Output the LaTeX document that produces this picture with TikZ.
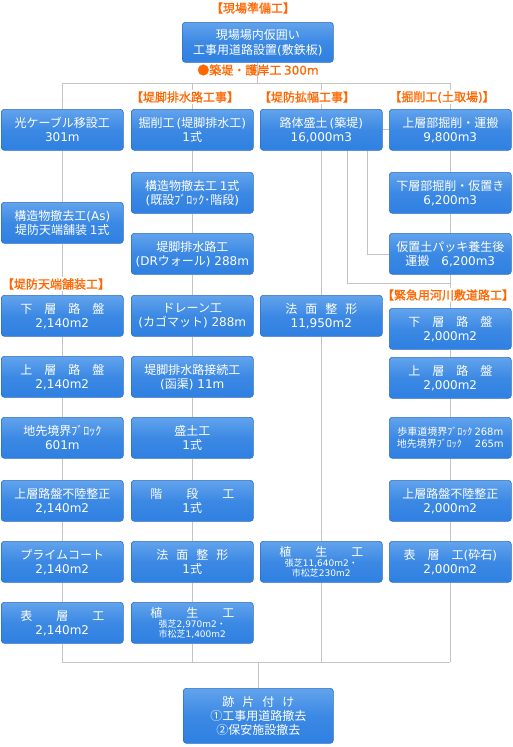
\documentclass[tikz,border=0pt]{standalone}
\usepackage{fontspec}
\setmainfont{DejaVu Sans}
\newfontfamily\cjkR{Noto Sans CJK JP}
\newfontfamily\cjkB[FakeBold=1.2]{Noto Sans CJK JP}
\newfontfamily\latR{DejaVu Sans}
\newfontfamily\latB[FakeBold=1.2]{DejaVu Sans}
\def\cjkfont{\cjkR}\def\latfont{\latR}
\newXeTeXintercharclass\cjkclass
\newcount\cjkcc
\def\setcjk#1#2{\cjkcc=#1\relax\loop\XeTeXcharclass\cjkcc=\cjkclass\relax\ifnum\cjkcc<#2\relax\advance\cjkcc by 1\relax\repeat}
\setcjk{"3000}{"30FF}
\setcjk{"4E00}{"9FFF}
\setcjk{"FF00}{"FFEF}
\setcjk{"2460}{"2473}
\setcjk{"25CF}{"25CF}
\XeTeXinterchartoks 0 \cjkclass = {\cjkfont}
\XeTeXinterchartoks 4095 \cjkclass = {\cjkfont}
\XeTeXinterchartoks \cjkclass 0 = {\latfont}
\XeTeXinterchartoks 4095 0 = {\latfont}
\XeTeXinterchartokenstate=1
\pgfdeclarelayer{bg}
\pgfsetlayers{bg,main}
\definecolor{boxtop}{HTML}{62A3EC}
\definecolor{boxmid}{HTML}{3C89E4}
\definecolor{boxbot}{HTML}{2F80E2}
\definecolor{boxline}{HTML}{2E6EC6}
\definecolor{lbl}{HTML}{FF6600}
\definecolor{connc}{HTML}{C4C4C4}
\newcommand\gp{\hspace{8pt}}
\newcommand\gq{\hspace{24pt}}
\tikzset{
  box/.style={draw=boxline, line width=0.6pt, rounded corners=3pt,
    top color=boxtop, bottom color=boxbot, middle color=boxmid,
    text=white, anchor=north west, minimum width=122pt, minimum height=41pt,
    inner sep=0pt, align=center, font=\fontsize{12}{14}\selectfont},
  small/.style={font=\fontsize{9}{10}\selectfont},
  lab/.style={text=lbl, fill=white, inner sep=1pt,
    font=\fontsize{12}{14}\selectfont\def\cjkfont{\cjkB}\def\latfont{\latB}},
  conn/.style={draw=connc, line width=0.8pt},
}
\begin{document}
\begin{tikzpicture}[x=1pt,y=-1pt]
\useasboundingbox (0,0) rectangle (513,747);
% top
\node[lab] (L0) at (253,8) {【現場準備工】};
\node[box, minimum width=151pt, minimum height=40pt, font=\fontsize{12}{15}\selectfont] (T) at (182,22) {現場場内仮囲い\\工事用道路設置(敷鉄板)};
\node[lab, fill=none] (L1) at (258,70) {●築堤・護岸工 300m};
\node[lab] (L2) at (185,97) {【堤脚排水路工事】};
\node[lab] (L3) at (307,97) {【堤防拡幅工事】};
\node[lab] (L4) at (442,97) {【掘削工(土取場)】};
\node[lab] (L5) at (56,284) {【堤防天端舗装工】};
\node[lab] (L6) at (448,295) {【緊急用河川敷道路工】};
% column 1
\node[box] (A1) at (1,109) {光ケーブル移設工\\301m};
\node[box] (A2) at (1,202) {構造物撤去工(As)\\堤防天端舗装 1式};
\node[box] (A3) at (1,295) {下　層　路　盤\\2,140m2};
\node[box] (A4) at (1,356) {上　層　路　盤\\2,140m2};
\node[box] (A5) at (1,417) {地先境界ﾌﾞﾛｯｸ\\601m};
\node[box] (A6) at (1,480) {上層路盤不陸整正\\2,140m2};
\node[box] (A7) at (1,541) {プライムコート\\2,140m2};
\node[box] (A8) at (1,602) {表\gq 層\gq 工\\2,140m2};
% column 2
\node[box] (B1) at (131,109) {掘削工\,(堤脚排水工)\\1式};
\node[box] (B2) at (131,172) {構造物撤去工 1式\\(既設ﾌﾞﾛｯｸ･階段)};
\node[box] (B3) at (131,233) {堤脚排水路工\\(DRウォール) 288m};
\node[box] (B4) at (131,295) {ドレーン工\\(カゴマット) 288m};
\node[box] (B5) at (131,356) {堤脚排水路接続工\\(函渠) 11m};
\node[box] (B6) at (131,417) {盛土工\\1式};
\node[box] (B7) at (131,480) {階\gq 段\gq 工\\1式};
\node[box] (B8) at (131,541) {法\gp 面\gp 整\gp 形\\1式};
\node[box, small] (B9) at (131,602) {{\fontsize{12}{12}\selectfont 植\gq 生\gq 工}\\張芝2,970m2・\\市松芝1,400m2};
% column 3
\node[box] (C1) at (260,109) {路体盛土\,(築堤)\\16,000m3};
\node[box] (C2) at (260,295) {法\gp 面\gp 整\gp 形\\11,950m2};
\node[box, small] (C3) at (260,541) {{\fontsize{12}{12}\selectfont 植\gq 生\gq 工}\\張芝11,640m2・\\市松芝230m2};
% column 4
\node[box] (D1) at (389,109) {上層部掘削・運搬\\9,800m3};
\node[box] (D2) at (389,172) {下層部掘削・仮置き\\6,200m3};
\node[box] (D3) at (389,233) {仮置土パッキ養生後\\運搬　6,200m3};
\node[box] (D4) at (389,308) {下　層　路　盤\\2,000m2};
\node[box] (D5) at (389,357) {上　層　路　盤\\2,000m2};
\node[box, font=\fontsize{10}{12}\selectfont] (D6) at (389,417) {歩車道境界ﾌﾞﾛｯｸ 268m\\地先境界ﾌﾞﾛｯｸ\hspace{13pt}265m};
\node[box] (D7) at (389,480) {上層路盤不陸整正\\2,000m2};
\node[box] (D8) at (389,541) {表　層　工(砕石)\\2,000m2};
% final
\node[box, minimum width=150pt, minimum height=55pt] (F) at (183,688) {跡\gp 片\gp 付\gp け\\①工事用道路撤去\\②保安施設撤去};
% connectors
\begin{pgfonlayer}{bg}
\coordinate (h0) at (257.5,83);
\coordinate (hb) at (257.5,662);
\coordinate (k1) at (347,283);
\coordinate (k2) at (367,254);
\draw[conn] (T.south) -- (T.south |- h0);
\draw[conn] (A1.north |- h0) -- (D1.north |- h0);
\foreach \n in {A1,B1,C1,D1} {\draw[conn] (\n.north |- h0) -- (\n.north);}
\foreach \a/\b in {A1/A2,A2/A3,A3/A4,A4/A5,A5/A6,A6/A7,A7/A8,
                   B1/B2,B2/B3,B3/B4,B4/B5,B5/B6,B6/B7,B7/B8,B8/B9,
                   C1/C2,C2/C3,
                   D1/D2,D2/D3,D3/D4,D4/D5,D5/D6,D6/D7,D7/D8}
  {\draw[conn] (\a.south) -- (\b.north);}
\foreach \n in {A8,B9,C3,D8} {\draw[conn] (\n.south) -- (\n.south |- hb);}
\draw[conn] (A8.south |- hb) -- (D8.south |- hb);
\draw[conn] (F.north |- hb) -- (F.north);
\draw[conn] (C1.east) -- (D1.west);
\draw[conn] (C1.south -| k1) -- (k1) -- (k1 -| D3.south);
\draw[conn] (C1.south -| k2) -- (k2) -- (D3.west |- k2);
\end{pgfonlayer}
\end{tikzpicture}
\end{document}
